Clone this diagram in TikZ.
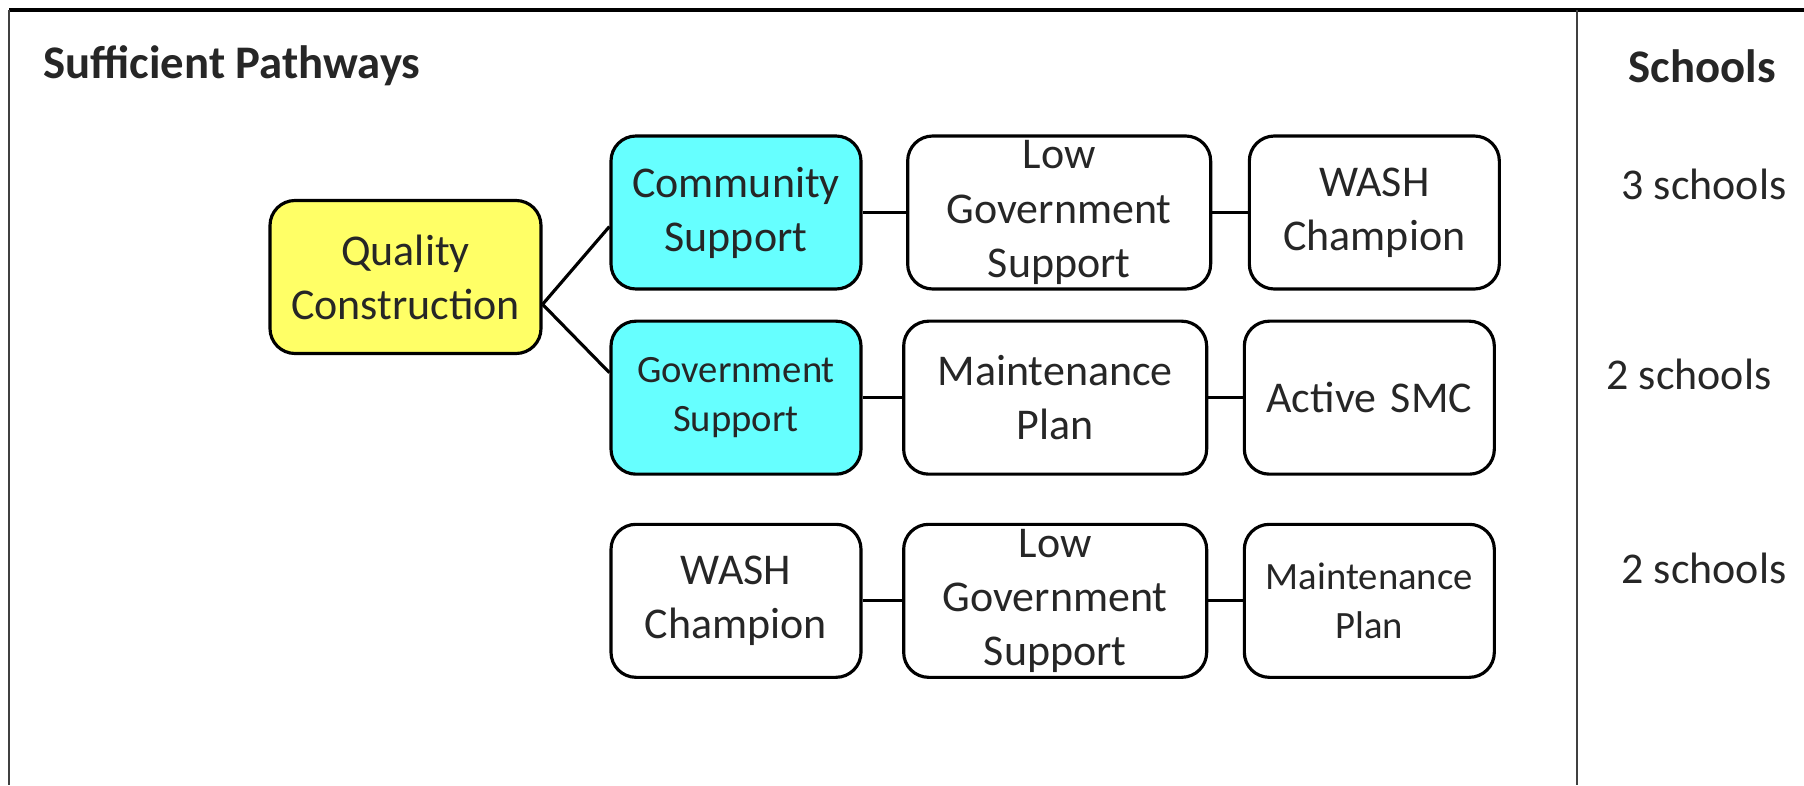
\documentclass[tikz,border=0pt]{standalone}
\usepackage{fontspec}
\setmainfont{Carlito}
\usepackage{tikz}
\usetikzlibrary{positioning,calc}
\definecolor{qcyellow}{HTML}{FFFF66}
\definecolor{supcyan}{HTML}{66FFFF}
\definecolor{ink}{HTML}{262626}
\tikzstyle{factor} = [rectangle, rounded corners=0.25cm, minimum width=2.5cm, minimum height=1.53cm, text width=2.4cm, align=center, inner sep=0pt, draw=black, line width=0.9pt, fill=white, text=ink, font=\fontsize{12.5}{15.4}\selectfont]
\tikzstyle{wide} = [minimum width=3.03cm, text width=2.9cm]
\tikzstyle{small} = [font=\fontsize{11}{14}\selectfont]
\tikzstyle{heading} = [text=ink, font=\fontsize{13.3}{16}\selectfont\bfseries]
\tikzstyle{count} = [text=ink, font=\fontsize{12.5}{15.4}\selectfont]
\tikzstyle{link} = [line width=0.9pt]

\begin{document}
\begin{tikzpicture}
  \useasboundingbox (0,0) rectangle (18.04,-7.85);
  % frame
  \draw[line width=1pt] (0.09,-0.10) -- (18.04,-0.10);
  \draw[line width=0.6pt, black!75] (0.09,-0.10) -- (0.09,-7.85);
  \draw[line width=0.6pt, black!75] (15.77,-0.10) -- (15.77,-7.85);

  \node[heading, anchor=west] (title) at (0.31,-0.66) {Sufficient Pathways};
  \node[heading] (schools) at (17.02,-0.66) {Schools};

  % pathways
  \node[factor, fill=qcyellow, minimum width=2.71cm, text width=2.6cm] (qc) at (4.055,-2.77) {Quality\\Construction};
  \node[factor, fill=supcyan] (cs) at (7.36,-2.125) {Community\\Support};
  \node[factor, fill=supcyan, small, below=0.29cm of cs] (gs) {Government\\Support};
  \node[factor, below=0.47cm of gs] (wc3) {WASH\\Champion};

  \node[factor, wide, right=0.435cm of cs] (lgs1) {Low\\Government\\Support};
  \node[factor, right=0.355cm of lgs1] (wc1) {WASH\\Champion};
  \node[factor, wide, right=0.395cm of gs] (mp2) {Maintenance\\Plan};
  \node[factor, right=0.345cm of mp2] (smc) {Active SMC};
  \node[factor, wide, right=0.395cm of wc3] (lgs3) {Low\\Government\\Support};
  \node[factor, small, right=0.345cm of lgs3] (mp3) {Maintenance\\Plan};

  % counts
  \node[count] (n1) at (17.04,-1.84) {3 schools};
  \node[count] (n2) at (16.89,-3.74) {2 schools};
  \node[count] (n3) at (17.04,-5.68) {2 schools};

  % connectors
  \coordinate (fork) at ($(qc.north east)!0.675!(qc.south east)$);
  \draw[link] (fork) -- ($(cs.north west)!0.59!(cs.south west)$);
  \draw[link] (fork) -- ($(gs.north west)!0.34!(gs.south west)$);
  \draw[link] (cs) -- (lgs1);
  \draw[link] (lgs1) -- (wc1);
  \draw[link] (gs) -- (mp2);
  \draw[link] (mp2) -- (smc);
  \draw[link] (wc3) -- (lgs3);
  \draw[link] (lgs3) -- (mp3);
\end{tikzpicture}
\end{document}
